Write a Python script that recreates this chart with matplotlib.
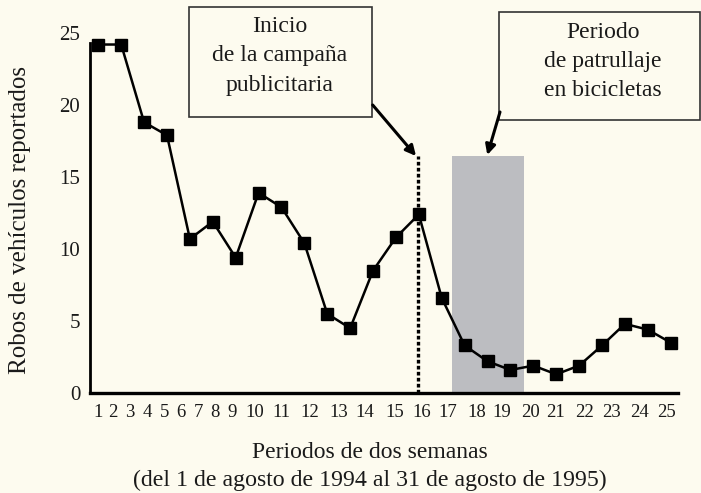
import matplotlib
matplotlib.use("Agg")
import matplotlib.pyplot as plt
from matplotlib.patches import Rectangle, FancyArrowPatch

# robos reportados por periodo (26 marcadores en la figura original)
periodo = list(range(1, 27))
robos = [24.2, 24.2, 18.8, 17.9, 10.7, 11.9, 9.4, 13.9, 12.9, 10.4,
         5.5, 4.5, 8.5, 10.8, 12.4, 6.6, 3.3, 2.2, 1.6, 1.9,
         1.3, 1.9, 3.3, 4.8, 4.4, 3.5]

# etiquetas del eje x (no coinciden exactamente con los marcadores en el original)
etiquetas_x = [str(i) for i in range(1, 26)]
pos_etiquetas = [1.0, 1.655, 2.385, 3.158, 3.883, 4.612, 5.368, 6.097, 6.826,
                 7.813, 8.98, 10.246, 11.482, 12.648, 13.958, 15.125, 16.26,
                 17.527, 18.619, 19.855, 20.99, 22.257, 23.423, 24.628, 25.825]
yticks = [0, 5, 10, 15, 20, 25]

inicio_campana = 14.95
patrullaje = (16.43, 19.59)
altura_marcas = 16.45

W, H = 701, 493
fondo = "#fdfbef"
plt.rcParams["font.family"] = ["Liberation Serif", "DejaVu Serif"]

fig = plt.figure(figsize=(W / 100, H / 100), dpi=100, facecolor=fondo)


def px(x, y):
    return (x / W, 1 - y / H)


ax = fig.add_axes([90 / W, 1 - 393 / H, (678 - 90) / W, (393 - 33) / H])
ax.set_facecolor(fondo)
ax.set_xlim(0.6375, 26.319)
ax.set_ylim(0, 25)

ax.axvspan(patrullaje[0], patrullaje[1], ymin=0, ymax=altura_marcas / 25,
           color="#bcbdc1", lw=0, zorder=1)
ax.plot([inicio_campana, inicio_campana], [0, altura_marcas], color="black",
        lw=2.4, linestyle=(0, (1.1, 0.7)), zorder=2)
ax.plot(periodo, robos, color="black", lw=1.8, marker="s", markersize=9,
        zorder=3, clip_on=False)

for s in ["top", "right"]:
    ax.spines[s].set_visible(False)
ax.spines["left"].set_linewidth(2.0)
ax.spines["left"].set_bounds(0, 24.3)
ax.spines["bottom"].set_linewidth(2.4)

ax.set_xticks(pos_etiquetas)
ax.set_xticklabels(etiquetas_x, fontsize=13.5)
ax.set_yticks(yticks)
ax.set_yticklabels([str(v) for v in yticks], fontsize=15)
ax.tick_params(axis="both", length=0, colors="#1a1a1a")
ax.tick_params(axis="x", pad=8)
ax.tick_params(axis="y", pad=7)

# textos de los ejes
fig.text(*px(20, 220), "Robos de vehículos reportados", rotation=90,
         ha="center", va="center", fontsize=18, color="#1a1a1a")
fig.text(*px(370, 452), "Periodos de dos semanas", ha="center", va="center",
         fontsize=17, color="#1a1a1a")
fig.text(*px(370, 480), "(del 1 de agosto de 1994 al 31 de agosto de 1995)",
         ha="center", va="center", fontsize=17.2, color="#1a1a1a")

# cuadros de anotacion
cuadros = [
    ((189, 7), (372, 117), "Inicio\nde la campaña\npublicitaria", (280, 56)),
    ((499, 12), (700, 120), "Periodo\nde patrullaje\nen bicicletas", (603, 61)),
]
for (x0, y0), (x1, y1), texto, centro in cuadros:
    r = Rectangle(px(x0, y1), (x1 - x0) / W, (y1 - y0) / H,
                  transform=fig.transFigure, facecolor=fondo,
                  edgecolor="#333333", lw=1.2)
    fig.add_artist(r)
    fig.text(*px(*centro), texto, ha="center", va="center", fontsize=17,
             linespacing=1.5, color="#1a1a1a")

flechas = [((372.7, 105), (416, 156)), ((500, 112), (487.3, 155))]
for ini, fin in flechas:
    a = FancyArrowPatch(px(*ini), px(*fin), transform=fig.transFigure,
                        arrowstyle="-|>", mutation_scale=15, lw=2.2,
                        color="black", shrinkA=0, shrinkB=0)
    fig.add_artist(a)

fig.savefig("out.png", dpi=100, facecolor=fondo)
